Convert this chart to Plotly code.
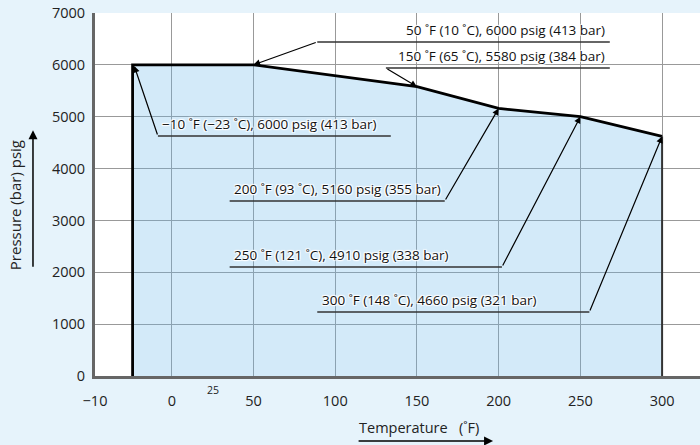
import plotly.graph_objects as go

# ---- data ----
y_ticks = [0, 1000, 2000, 3000, 4000, 5000, 6000, 7000]
x_tick_vals = [-47, 0, 50, 100, 150, 200, 250, 300]
x_tick_text = ["−10", "0", "50", "100", "150", "200", "250", "300"]

curve_temp = [-24, 50, 150, 200, 250, 300]
curve_psig = [6000, 6000, 5580, 5160, 5000, 4620]

callout_text = [
    "50 ˚F (10 ˚C), 6000 psig (413 bar)",
    "150 ˚F (65 ˚C), 5580 psig (384 bar)",
    "−10 ˚F (−23 ˚C), 6000 psig (413 bar)",
    "200 ˚F (93 ˚C), 5160 psig (355 bar)",
    "250 ˚F (121 ˚C), 4910 psig (338 bar)",
    "300 ˚F (148 ˚C), 4660 psig (321 bar)",
]
callout_target = [1, 2, 0, 3, 4, 5]  # index into curve points
# underline: x_start, x_end, y ; tail of leader at which end ; text anchor
callout_line = [
    (89, 268, 6441, "start", "right"),
    (131, 268, 5939, "start", "right"),
    (-8.5, 134, 4628, "start", "left"),
    (35.4, 167, 3374, "end", "left"),
    (35.4, 202, 2102, "end", "left"),
    (89, 255.5, 1234, "end", "left"),
]

BG = "#E6F3FB"
FONT = "Open Sans"

fig = go.Figure()

# filled region
fig.add_trace(go.Scatter(
    x=[curve_temp[0]] + curve_temp + [curve_temp[-1]],
    y=[0] + curve_psig + [0],
    fill="toself", fillcolor="rgba(110,185,235,0.30)",
    line=dict(width=0), mode="lines", hoverinfo="skip", showlegend=False))
# outline
fig.add_trace(go.Scatter(
    x=[curve_temp[0]] + curve_temp,
    y=[0] + curve_psig,
    mode="lines", line=dict(color="black", width=2.8), showlegend=False))
fig.add_trace(go.Scatter(
    x=[curve_temp[-1], curve_temp[-1]], y=[curve_psig[-1], 0],
    mode="lines", line=dict(color="#333", width=2), showlegend=False))

shapes = []
annotations = []
halo = "1px 1px 1px white, -1px -1px 1px white, 1px -1px 1px white, -1px 1px 1px white, 0 0 2px white"
for txt, ti, (x0, x1, yl, tail, anch) in zip(callout_text, callout_target, callout_line):
    shapes.append(dict(type="line", xref="x", yref="y", x0=x0, x1=x1, y0=yl, y1=yl,
                       line=dict(color="#333", width=1.6)))
    tx = x0 if tail == "start" else x1
    annotations.append(dict(
        x=curve_temp[ti] + (1 if ti == 0 else 0), y=curve_psig[ti] - (20 if ti == 0 else 0),
        xref="x", yref="y", ax=tx, ay=yl, axref="x", ayref="y",
        text="", showarrow=True, arrowhead=2, arrowsize=1.1, arrowwidth=1.2, arrowcolor="black"))
    annotations.append(dict(
        x=(x1 - 1.5) if anch == "right" else (x0 + 1.5), y=yl, xref="x", yref="y",
        xanchor=anch, yanchor="bottom", yshift=1, showarrow=False, text=txt,
        font=dict(family=FONT, size=13.5, color="#111", shadow=halo)))

# "25" small tick
annotations.append(dict(x=25, y=-0.0386, xref="x", yref="paper", text="25", showarrow=False,
                        font=dict(family=FONT, size=10.5, color="#222"), xanchor="center", yanchor="middle"))
# axis titles
annotations.append(dict(x=-0.132, y=0.471, xref="paper", yref="paper", text="Pressure (bar) psig",
                        textangle=-90, showarrow=False, font=dict(family=FONT, size=15, color="#222"),
                        xanchor="center", yanchor="middle"))
annotations.append(dict(x=-0.1025, y=0.677, xref="paper", yref="paper", ax=0, ay=138, text="",
                        showarrow=True, arrowhead=2, arrowsize=1.2, arrowwidth=1.5, arrowcolor="black"))
annotations.append(dict(x=0.5355, y=-0.143, xref="paper", yref="paper",
                        text="Temperature\u00a0\u00a0\u00a0(˚F)",
                        showarrow=False, font=dict(family=FONT, size=14.5, color="#222"),
                        xanchor="center", yanchor="middle"))
annotations.append(dict(x=0.658, y=-0.179, xref="paper", yref="paper", ax=-136, ay=0, text="",
                        showarrow=True, arrowhead=2, arrowsize=1.2, arrowwidth=1.5, arrowcolor="black"))

fig.update_layout(
    width=700, height=445,
    margin=dict(l=95, r=0, t=13, b=69, autoexpand=False),
    paper_bgcolor=BG, plot_bgcolor="white",
    shapes=shapes, annotations=annotations,
    showlegend=False,
    font=dict(family=FONT, size=13, color="#222"),
)
fig.update_xaxes(range=[-47, 323.2], tickvals=x_tick_vals, ticktext=x_tick_text,
                 showgrid=True, gridcolor="#999", gridwidth=1, zeroline=False,
                 showline=True, linecolor="#666", linewidth=3, automargin=False,
                 ticks="outside", ticklen=10, tickcolor="rgba(0,0,0,0)",
                 tickfont=dict(family=FONT, size=14.5, color="#222"))
fig.update_yaxes(range=[0, 7000], tickvals=y_ticks,
                 showgrid=True, gridcolor="#999", gridwidth=1, zeroline=False,
                 showline=True, linecolor="#666", linewidth=3, automargin=False,
                 ticks="outside", ticklen=4, tickcolor="rgba(0,0,0,0)",
                 tickfont=dict(family=FONT, size=14.5, color="#222"))

fig.write_html("out.html", config={"displayModeBar": False},
               post_script="document.body.style.margin='0';document.body.style.padding='0';"
                           "document.body.style.background='%s';document.body.style.overflow='hidden';" % BG)
